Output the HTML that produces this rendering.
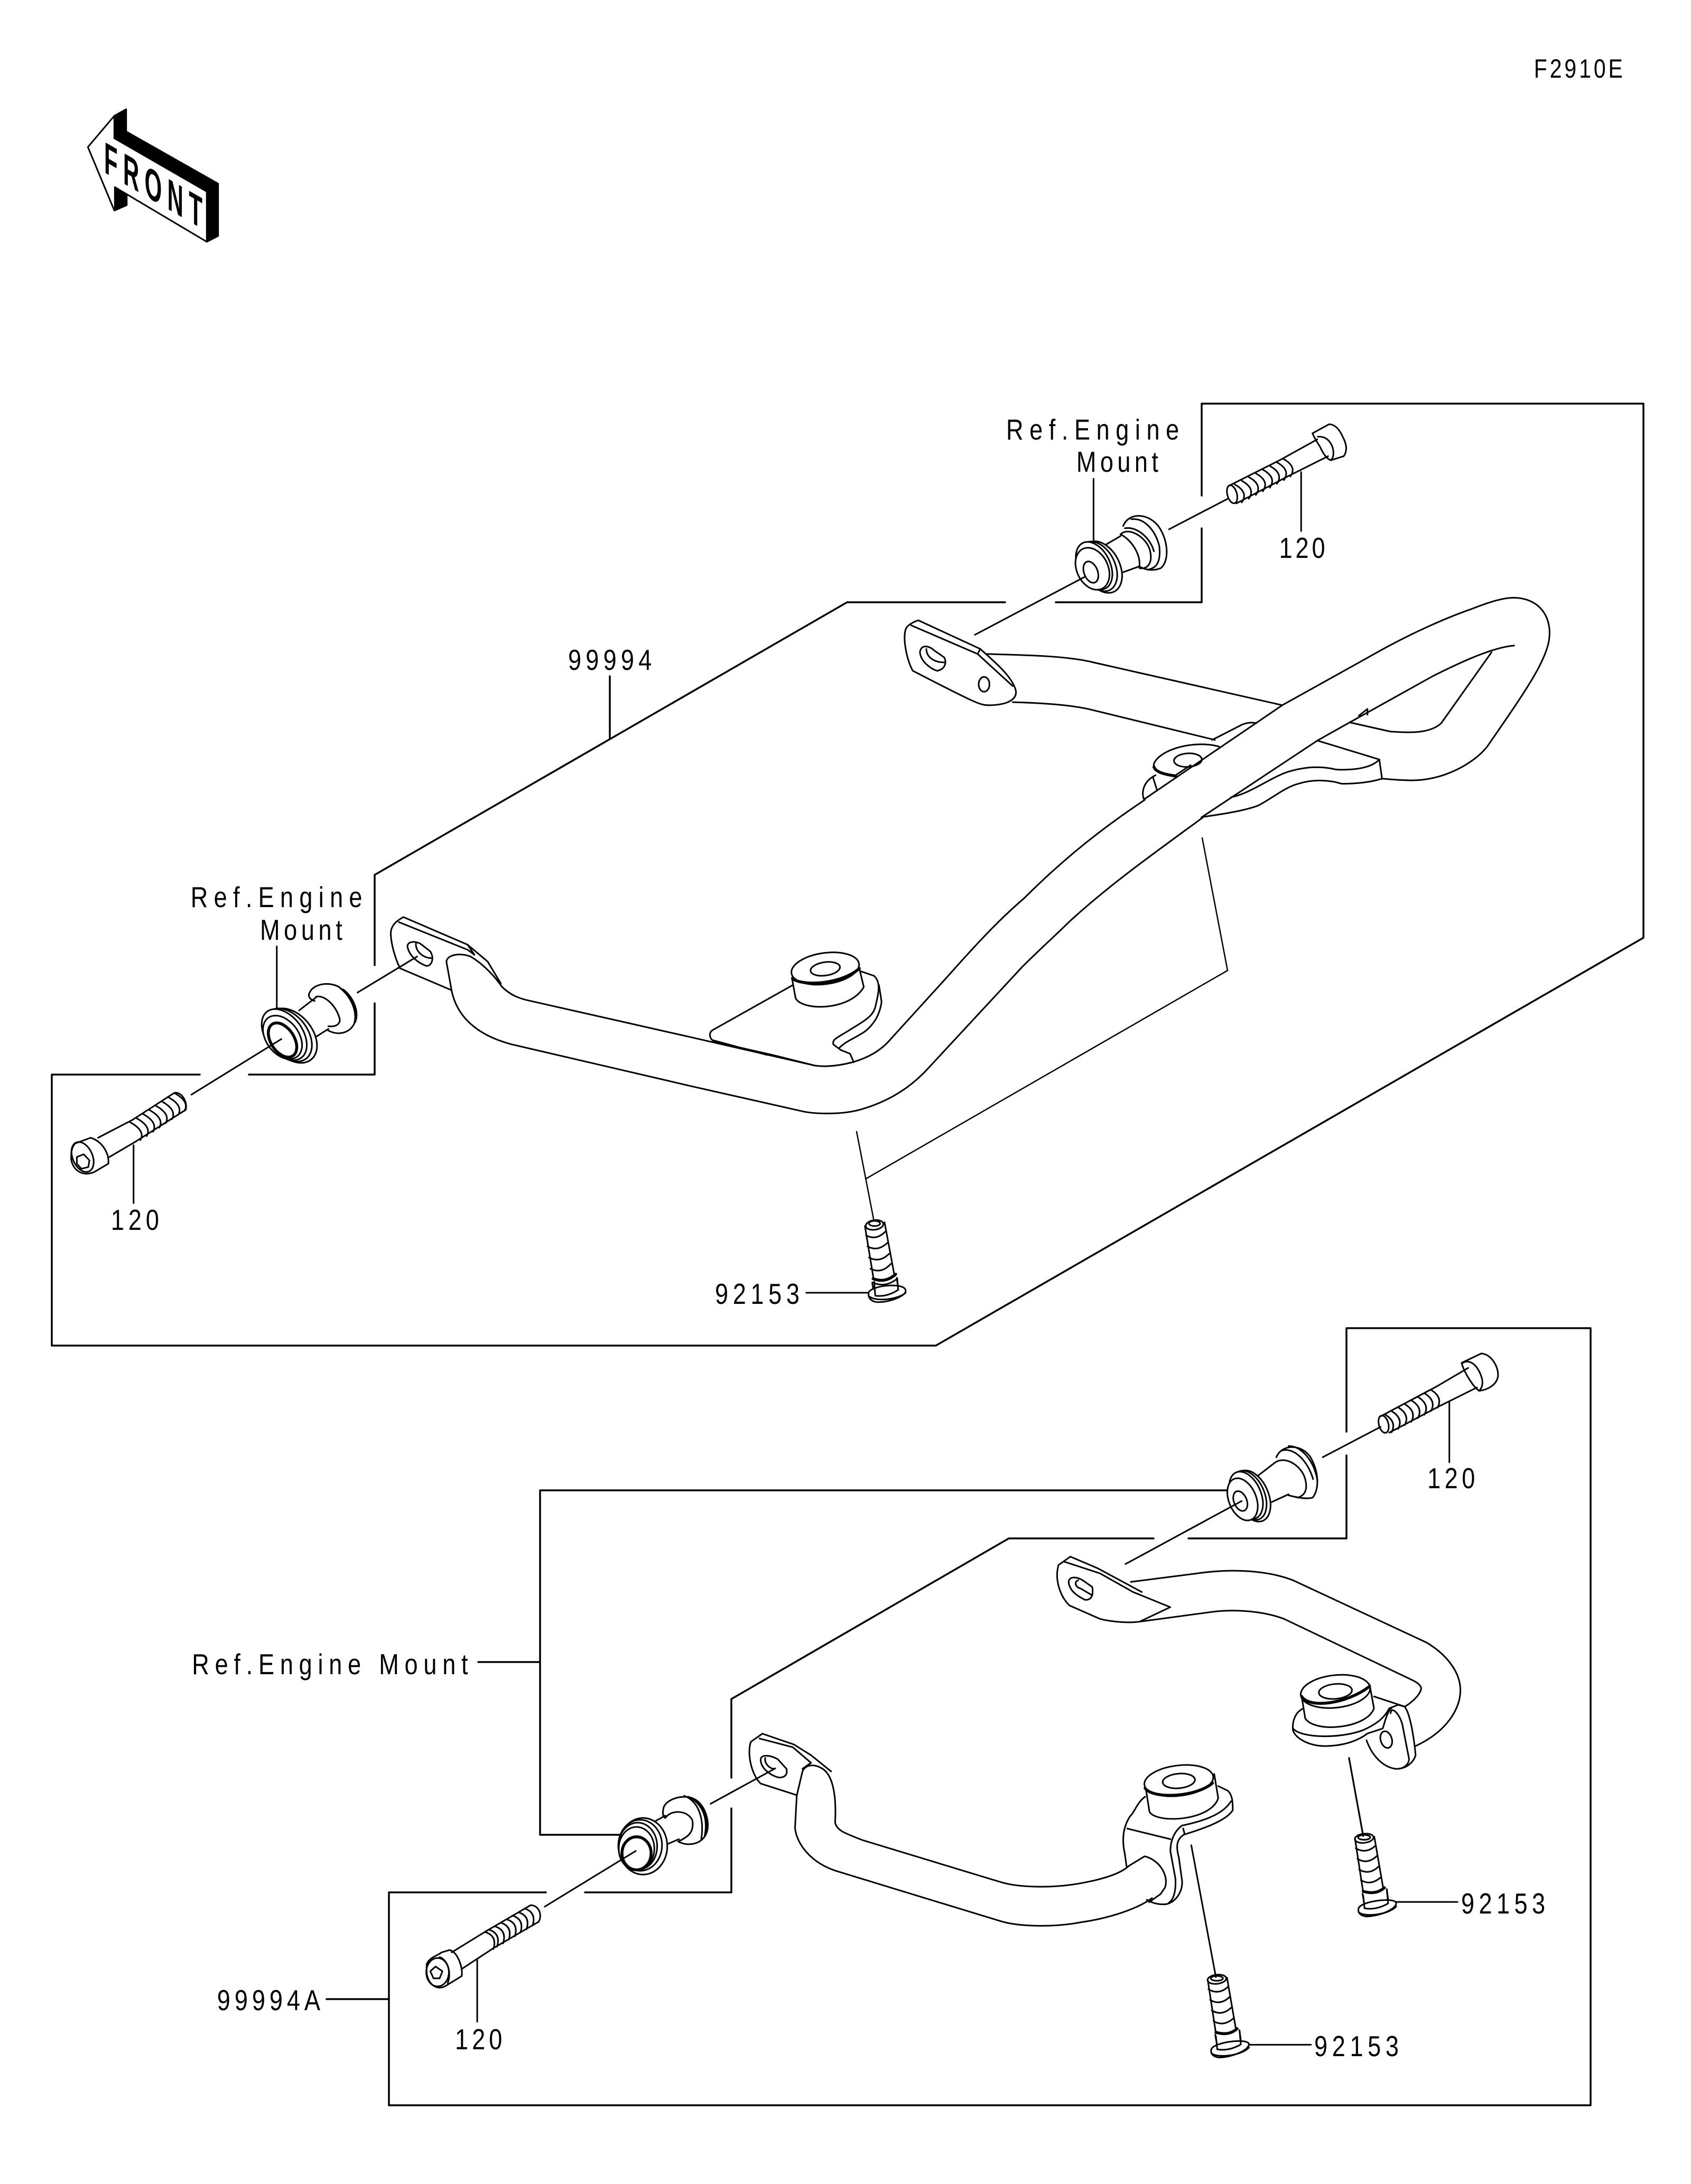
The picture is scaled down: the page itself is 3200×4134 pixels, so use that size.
<!DOCTYPE html>
<html><head><meta charset="utf-8"><title>F2910E</title>
<style>
html,body{margin:0;padding:0;background:#fff}
svg{display:block}
svg *{vector-effect:non-scaling-stroke}
path,line,ellipse,polyline{fill:none;stroke:#000;stroke-width:3;stroke-linejoin:round;stroke-linecap:round}
.w{fill:#fff}
.k{fill:#000;stroke:#000}
.t{stroke-width:5.5}
.f{stroke-width:3.5}
.n{stroke-width:2.5}
text{font-family:"Liberation Sans",sans-serif;font-size:55px;fill:#000;stroke:none}
</style></head><body>
<svg xmlns="http://www.w3.org/2000/svg" width="3200" height="4134" viewBox="0 0 3200 4134">
<rect width="3200" height="4134" fill="#fff"/>

<!-- FRONT arrow -->
<g transform="translate(100,60) scale(.5102,.3333)">
<path class="k" d="M228,478 L272,440 L272,567 L613,863 L613,1160 L571,1193 L571,908 L228,605Z"/>
<path class="k" d="M230,883 L274,925 L274,985 L230,1015Z"/>
<path d="M228,478 L130,655 L228,1015"/>
<path d="M230,883 L571,1193"/>
</g>
<text transform="translate(197,326) skewY(30) scale(.5,1)" style="font-size:84px;font-weight:bold" textLength="372" lengthAdjust="spacing">FRONT</text>

<!-- Frames -->
<g class="fr">
<path class="f" d="M2274,938 L2274,764 L3110,764 L3110,1775 L1771,2547 L98,2547 L98,2034 L378,2034"/>
<path class="f" d="M471,2034 L709,2034 L709,1899"/>
<path class="f" d="M709,1827 L709,1656 L1603,1140 L1902,1140"/>
<path class="f" d="M1998,1140 L2274,1140 L2274,1000"/>
<path class="n" d="M2275,1586 L2323,1837 L1639,2231"/>
<path class="n" d="M1621,2142 L1653,2307"/>
<line class="f" x1="1154" y1="1280" x2="1154" y2="1397"/>
<!-- lower -->
<path class="f" d="M2548,2710 L2548,2514 L3010,2514 L3010,3985 L736,3985 L736,3582 L1033,3582"/>
<path class="f" d="M1107,3582 L1384,3582 L1384,3423"/>
<path class="f" d="M1384,3365 L1384,3216 L1909,2912 L2183,2912"/>
<path class="f" d="M2249,2912 L2548,2912 L2548,2755"/>
<path class="f" d="M2322,2821 L1022,2821 L1022,3473 L1172,3473"/>
<line class="f" x1="905" y1="3146" x2="1022" y2="3146"/>
<line class="f" x1="618" y1="3784" x2="736" y2="3784"/>
</g>

<!-- Top right assembly (Z2 coordinates) -->
<g transform="translate(1600,750) scale(1.0204,.6378)">
<!-- bolt -->
<path d="M866,110 L897,83 Q912,84 922,120 Q934,155 924,178 L900,190 Q890,185 880,150 Q870,125 866,110Z"/>
<path d="M876,120 Q895,118 903,150 Q908,178 900,190"/>
<path d="M875,128 L805,190 L712,265"/>
<path d="M895,178 L820,238 L725,318"/>
<ellipse cx="717" cy="291" rx="9" ry="27" transform="rotate(-8 717 291)"/>
<path d="M722,262 Q748,285 735,315 M735,251 Q761,274 748,304 M748,240 Q774,263 761,293 M761,229 Q787,252 774,282 M774,218 Q800,241 787,271 M787,207 Q813,230 800,260 M800,196 Q826,219 813,249 M812,186 Q838,209 825,238"/>
<line x1="845" y1="225" x2="845" y2="400"/>
<line x1="600" y1="395" x2="708" y2="305"/>
<line x1="460" y1="245" x2="460" y2="430"/>
<!-- mount -->
<path d="M515,385 C525,345 560,345 580,385 C600,430 600,490 585,510 C570,520 555,515 545,505"/>
<path d="M530,365 C555,360 575,400 582,445 C585,490 578,510 560,515"/>
<path d="M510,410 C525,385 560,420 565,460 C570,495 560,515 545,510"/>
<path d="M518,392 C540,385 565,420 572,460"/>
<path d="M510,415 L478,445 M545,505 L505,528"/>
<path d="M510,410 C530,425 548,470 545,505"/>
<ellipse class="w" cx="475" cy="507" rx="35" ry="78" transform="rotate(-12 475 507)"/>
<ellipse class="w" cx="468" cy="505" rx="33" ry="75" transform="rotate(-12 468 505)"/>
<ellipse class="w" cx="461" cy="503" rx="31" ry="72" transform="rotate(-12 461 503)"/>
<ellipse class="w" cx="458" cy="512" rx="30" ry="63" transform="rotate(-10 458 512)"/>
<ellipse class="w" cx="455" cy="522" rx="13" ry="32" transform="rotate(-10 455 522)"/>
<line x1="445" y1="535" x2="240" y2="708"/>
<!-- plate -->
<path d="M135,665 L250,750 C270,780 310,830 316,875 C318,900 300,917 265,917 C250,917 240,910 125,815 C115,790 105,720 112,690 C115,680 125,670 135,665Z"/>
<path d="M122,680 L245,765 L250,750 M245,765 L310,860"/>
<path d="M138,760 C140,735 155,740 165,755 L183,775 C188,790 185,810 170,815 C160,810 140,790 138,760Z"/>
<path d="M150,750 C150,775 165,790 183,790"/>
<ellipse cx="257" cy="855" rx="10" ry="22"/>
<!-- far rail -->
<path d="M262,765 C330,768 410,770 460,790 L810,917"/>
<path d="M310,908 C360,910 420,915 460,932 L685,1020"/>
<path d="M935,968 L1010,995 C1050,1000 1085,1000 1105,970 L1198,760"/>
<path d="M875,1022 L990,1078 L995,1135"/>
<!-- near rail -->
<path d="M555,1195 L810,917 L975,770 C1040,710 1110,660 1160,632 C1195,610 1220,598 1240,598 C1290,600 1310,660 1305,720 C1300,790 1250,900 1190,1040 C1165,1090 1110,1140 1050,1140 C1030,1140 1010,1137 995,1135"/>
<path d="M660,1250 L875,1022 L935,968 L1090,830 C1140,790 1200,745 1240,740"/>
<!-- rear bushing -->
<path d="M693,1040 C650,1020 585,1045 572,1090 C570,1110 585,1122 612,1125 L640,1095"/>
<path class="t" d="M572,1100 C575,1115 590,1122 612,1127"/>
<ellipse cx="635" cy="1080" rx="26" ry="20" transform="rotate(-10 635 1080)"/>
<path d="M680,1020 L735,975 C745,968 755,968 762,970"/>
<path d="M575,1125 C555,1140 548,1170 553,1195 M570,1130 L578,1170"/>
<!-- front bracket -->
<path d="M715,1190 C750,1180 790,1130 820,1115 C860,1095 890,1100 910,1108 C940,1110 975,1105 990,1078"/>
<path d="M665,1248 C700,1240 740,1230 765,1215 C790,1195 815,1160 840,1150 C870,1135 900,1140 920,1150 C950,1150 975,1145 995,1135"/>
<path d="M952,948 L968,928 L968,945"/>
</g>

<!-- Rail middle + left bushing (Z6 coordinates) -->
<g transform="translate(1300,1500) scale(.7015,.7015)">
<path d="M0,658 L345,737 C380,742 420,735 450,727 C490,715 525,695 550,665 L700,500 C780,410 840,345 910,285 C1000,195 1100,110 1235,20"/>
<path d="M0,790 L310,860 C345,868 420,870 470,855 C540,835 600,800 650,745 L905,470 C950,425 1000,380 1030,350 C1150,240 1280,150 1395,65"/>
<path d="M285,520 L68,642 C60,648 60,660 68,668 L215,708"/>
<path d="M70,672 L230,708 L345,737"/>
<path d="M470,483 L505,495 C520,510 520,530 510,570 C505,600 490,610 440,640 C410,660 390,665 395,680 L415,695 L440,705 L450,728"/>
<path d="M518,520 L525,565 C520,600 505,625 480,645 C450,665 430,670 410,690"/>
<path class="w" d="M283,500 L293,555 C310,590 440,590 477,525 L465,475"/>
<ellipse class="w" cx="373" cy="475" rx="92" ry="42" transform="rotate(-8 373 475)"/>
<ellipse cx="373" cy="476" rx="40" ry="18" transform="rotate(-8 373 476)"/>
<path class="t" d="M285,503 C320,525 420,515 465,475"/>
<!-- bolt -->
<ellipse cx="506" cy="1167" rx="24" ry="13" transform="rotate(-8 506 1167)"/>
<ellipse cx="506" cy="1163" rx="15" ry="7"/>
<path d="M480,1170 L503,1310 M533,1160 L560,1305"/>
<path d="M483,1195 Q510,1210 535,1185 M487,1225 Q515,1240 541,1215 M491,1255 Q520,1270 545,1245 M495,1285 Q525,1300 550,1272"/>
<path class="t" d="M502,1312 Q535,1325 563,1300"/>
<path d="M500,1325 L505,1355 M567,1310 L570,1345 M500,1322 Q535,1338 567,1312"/>
<path class="w" d="M490,1350 C495,1330 590,1320 590,1345 C590,1360 540,1378 510,1375 C495,1372 488,1362 490,1350Z"/>
<path d="M505,1320 L508,1358 Q540,1362 570,1342 L566,1310"/>
<path d="M492,1360 C510,1375 570,1368 590,1350"/>
<line x1="322" y1="1350" x2="490" y2="1350"/>
</g>

<!-- Left assembly (Z3 coordinates) -->
<g transform="translate(50,1600) scale(1.0842,.6378)">
<path d="M658,213 L770,295 L805,345 L828,410"/>
<path d="M658,213 C645,225 635,240 636,265 C637,300 645,340 652,365 L742,430"/>
<path d="M650,228 L770,310 L782,325 M770,295 L782,325"/>
<path d="M665,300 C665,285 680,282 690,295 L705,315 C712,335 708,358 698,358 C685,350 668,330 665,300Z"/>
<path d="M680,290 C678,310 690,335 708,335"/>
<path d="M733,345 C735,325 755,318 775,330 C800,355 820,395 830,420 C845,445 860,455 880,462 L1153,567"/>
<path d="M733,345 L742,430 C750,500 780,560 845,590 L1153,712"/>
<!-- mount -->
<line x1="437" y1="300" x2="437" y2="485"/>
<path d="M495,435 C500,415 525,402 545,420 C568,450 578,495 572,530 C565,555 545,568 525,548"/>
<path d="M495,435 C490,448 495,458 503,462"/>
<path d="M545,420 C565,445 578,485 574,525 M553,428 C570,450 580,490 575,520"/>
<path d="M505,450 C518,442 538,470 546,510 C550,530 540,540 527,537"/>
<path d="M505,452 L476,490 M527,545 L502,572"/>
<ellipse class="w" cx="463" cy="565" rx="40" ry="83" transform="rotate(-15 463 565)"/>
<ellipse class="w" cx="456" cy="563" rx="38" ry="81" transform="rotate(-15 456 563)"/>
<ellipse class="w" cx="450" cy="562" rx="35" ry="78" transform="rotate(-15 450 562)"/>
<ellipse class="w" cx="447" cy="570" rx="31" ry="66" transform="rotate(-14 447 570)"/>
<ellipse class="t" cx="447" cy="578" rx="22" ry="52" transform="rotate(-14 447 578)"/>
<line x1="445" y1="575" x2="288" y2="740"/>
<line x1="578" y1="437" x2="682" y2="330"/>
<!-- bolt -->
<path d="M85,885 L112,868 C135,880 145,920 143,945 L118,970 C95,985 80,960 78,930 C78,905 80,895 85,885Z"/>
<ellipse cx="98" cy="925" rx="18" ry="45" transform="rotate(-10 98 925)"/>
<path d="M88,925 L100,917 L110,935 L108,955 L96,960 L88,945Z"/>
<path d="M125,868 L185,815 L258,735 M145,925 L190,880 L278,785"/>
<path d="M258,735 C270,730 282,760 278,785"/>
<path d="M258,735 Q285,760 276,788 M247,747 Q274,772 265,800 M236,760 Q263,785 254,813 M225,772 Q252,797 243,825 M214,785 Q241,810 232,838 M203,797 Q230,822 221,850 M192,810 Q219,835 210,863 M181,822 Q208,847 199,875"/>
<line x1="187" y1="890" x2="187" y2="1062"/>
</g>

<!-- Lower: mount, bolt (Z8 coordinates) -->
<g transform="translate(300,2700) scale(.7653,.8929)">
<path d="M1248,812 C1250,790 1300,778 1325,790 C1352,802 1365,840 1355,862 C1345,885 1310,892 1285,880"/>
<path d="M1248,812 C1246,822 1248,828 1253,830"/>
<path d="M1253,830 C1270,810 1310,815 1320,835 C1325,860 1310,870 1285,880"/>
<path d="M1310,785 C1345,800 1360,830 1350,870 M1322,790 C1350,805 1362,830 1354,862 M1300,783 C1335,795 1350,830 1342,875"/>
<path d="M1253,825 L1205,848 M1287,875 L1232,895"/>
<ellipse class="w" cx="1198" cy="890" rx="60" ry="60" transform="rotate(-30 1198 890)"/>
<ellipse class="w" cx="1191" cy="888" rx="54" ry="54"/>
<ellipse class="w" cx="1185" cy="890" rx="48" ry="50"/>
<ellipse class="w" cx="1182" cy="895" rx="44" ry="46"/>
<ellipse class="t" cx="1182" cy="905" rx="36" ry="35"/>
<line x1="955" y1="1018" x2="1180" y2="900"/>
<line x1="1365" y1="800" x2="1525" y2="725"/>
<path d="M663,1140 C670,1125 690,1122 700,1115 L720,1110 C740,1115 752,1145 750,1165 L712,1185 C695,1195 670,1190 663,1160Z"/>
<ellipse cx="690" cy="1157" rx="28" ry="30"/>
<path d="M672,1155 L685,1145 L702,1155 L695,1170 L680,1170Z"/>
<path d="M695,1125 C715,1130 725,1160 715,1180"/>
<path d="M725,1115 L810,1070 L920,1015 M750,1150 L830,1105 L940,1050"/>
<path d="M920,1015 C940,1015 950,1035 940,1050"/>
<path d="M905,1022 Q935,1030 925,1058 M890,1030 Q920,1038 910,1066 M875,1037 Q905,1045 895,1073 M861,1045 Q891,1053 881,1081 M846,1052 Q876,1060 866,1088 M832,1060 Q862,1068 852,1096 M817,1067 Q847,1075 837,1103 M808,1072 Q838,1080 828,1108"/>
<line x1="788" y1="1130" x2="788" y2="1262"/>
</g>

<!-- Lower left bracket + rail (Z5 coordinates) -->
<g transform="translate(700,3200) scale(1.0842,.5102)">
<path d="M685,160 L740,200 L770,240 L805,300"/>
<path d="M685,160 L665,190 C658,230 665,310 682,345 L745,388"/>
<path d="M680,178 L738,210 L770,268 L755,290"/>
<path d="M682,255 C683,235 700,240 712,255 L727,290 C730,315 722,325 712,322 C695,310 682,285 682,255Z"/>
<path d="M690,250 C688,270 698,290 705,290"/>
<path d="M755,300 C760,275 775,270 790,290 C805,310 815,370 812,490 C815,520 830,530 860,555 L1100,710 C1130,730 1190,735 1240,715 C1280,700 1310,680 1325,650 L1352,615 C1375,625 1395,680 1388,730 L1380,755 L1360,785"/>
<path d="M755,300 L745,390 L742,510 C745,570 770,640 815,670 L1100,855 C1130,875 1190,880 1240,860 C1290,845 1340,810 1365,770"/>
</g>

<!-- Lower bushings/bolts (Z9 coordinates) -->
<g transform="translate(2100,3200) scale(.6378,.574)">
<defs>
<g id="b">
<ellipse cx="755" cy="487" rx="28" ry="15" transform="rotate(-8 755 487)"/>
<ellipse cx="755" cy="484" rx="18" ry="8"/>
<path d="M728,490 L752,665 M785,482 L812,655"/>
<path d="M730,520 Q760,540 788,512 M735,555 Q765,575 793,545 M740,590 Q770,610 798,580 M745,625 Q775,645 805,615"/>
<path class="t" d="M752,662 Q790,675 815,650"/>
<path d="M750,670 L758,720 Q785,730 828,705 L822,655"/>
<path class="w" d="M738,720 C740,695 845,680 850,700 C852,720 800,745 760,745 C745,742 736,735 738,720Z"/>
<path d="M752,675 L756,718 Q790,725 826,702 L822,655"/>
<path d="M740,732 C760,748 830,738 850,712"/>
</g>
</defs>
<path d="M322,315 L350,330 C365,345 365,370 365,395 C350,420 310,445 220,475 C200,490 195,510 205,550 L215,630 C215,670 190,705 160,705 C140,705 125,700 110,690"/>
<path d="M105,350 C80,370 75,400 60,415 C40,450 35,490 45,540 L50,580"/>
<path d="M52,455 L180,490"/>
<path d="M360,365 C340,400 300,425 215,445 C195,460 180,490 180,530 L195,620 C197,660 190,690 175,700"/>
<path d="M218,455 L222,472"/>
<path class="w" d="M108,330 L118,400 C140,440 300,430 322,355 L310,275"/>
<ellipse class="w" cx="205" cy="297" rx="103" ry="50" transform="rotate(-8 205 297)"/>
<ellipse cx="205" cy="298" rx="48" ry="24" transform="rotate(-6 205 298)"/>
<path class="t" d="M105,322 C130,360 260,350 305,305"/>
<use href="#b"/>
<use href="#b" transform="translate(-437,465)"/>
<line x1="710" y1="222" x2="752" y2="480"/>
<line x1="242" y1="510" x2="315" y2="945"/>
<line x1="850" y1="697" x2="1032" y2="697"/>
<line x1="415" y1="1168" x2="597" y2="1168"/>
</g>

<!-- Upper right lower assembly (Z4 coordinates) -->
<g transform="translate(1800,2500) scale(.8291,.6378)">
<path d="M1165,125 L1210,97 C1235,100 1250,140 1248,165 C1245,190 1225,205 1205,208 C1190,195 1170,150 1165,125Z"/>
<path d="M1168,125 C1180,115 1195,125 1205,150 C1215,175 1215,195 1205,208"/>
<path d="M1180,140 L1108,195 L978,285 M1200,198 L1112,255 L1000,332"/>
<ellipse cx="987" cy="307" rx="11" ry="26" transform="rotate(-10 987 307)"/>
<path d="M990,278 Q1018,300 1005,331 M1005,268 Q1033,290 1020,321 M1020,257 Q1048,279 1035,310 M1035,247 Q1063,269 1050,300 M1050,236 Q1078,258 1065,289 M1065,226 Q1093,248 1080,279 M1080,215 Q1108,237 1095,268 M1095,205 Q1123,227 1110,258"/>
<line x1="1137" y1="240" x2="1137" y2="420"/>
<line x1="848" y1="405" x2="980" y2="315"/>
<path d="M742,405 C755,365 800,365 820,405 C840,450 840,500 825,525 C810,530 790,525 770,518"/>
<path d="M755,385 C785,375 815,420 826,470 M770,372 C800,370 830,420 836,475"/>
<path d="M735,425 C760,395 800,430 808,470 C815,505 805,520 790,525"/>
<path d="M735,425 L695,465 M770,515 L725,542"/>
<ellipse class="w" cx="687" cy="520" rx="38" ry="78" transform="rotate(-15 687 520)"/>
<ellipse class="w" cx="680" cy="518" rx="36" ry="75" transform="rotate(-15 680 518)"/>
<ellipse class="w" cx="673" cy="518" rx="35" ry="72" transform="rotate(-15 673 518)"/>
<ellipse class="w" cx="665" cy="530" rx="32" ry="64" transform="rotate(-14 665 530)"/>
<ellipse class="w" cx="660" cy="535" rx="15" ry="30" transform="rotate(-14 660 535)"/>
<line x1="663" y1="535" x2="398" y2="722"/>
<!-- plate -->
<path d="M272,700 L335,735 L435,805"/>
<path d="M272,700 L245,725 C235,770 250,820 270,845 L340,885 C370,895 410,897 430,893 L500,850 L415,805"/>
<path d="M258,715 L340,750 L415,805"/>
<path d="M268,775 C270,755 290,762 300,770 L322,790 C325,815 320,830 305,828 C285,815 270,800 268,775Z"/>
<path d="M290,770 C280,775 283,790 296,795 L322,815"/>
<path d="M410,775 L560,750 C640,735 720,740 780,770 L1085,955 C1130,990 1160,1040 1162,1090 C1165,1150 1130,1220 1060,1262"/>
<path d="M430,893 L590,865 C640,855 710,860 760,885 L1055,1068 C1065,1075 1075,1085 1072,1095 C1070,1110 1050,1135 1035,1145"/>
<!-- bushing -->
<path d="M965,1115 L1035,1145"/>
<path d="M805,1150 C785,1160 778,1190 780,1215 C785,1240 820,1265 860,1262 C900,1260 930,1245 950,1225 L985,1210 C990,1190 995,1160 1005,1150"/>
<path d="M780,1210 C800,1240 890,1240 940,1215 C975,1195 990,1175 1000,1150 L1020,1140 L1035,1145 C1050,1170 1058,1260 1060,1290 C1055,1310 1040,1330 1015,1330 C985,1325 960,1290 948,1245"/>
<path d="M1003,1165 C1005,1140 1025,1170 1030,1200 L1045,1300 C1045,1315 1035,1328 1020,1330"/>
<ellipse cx="993" cy="1243" rx="13" ry="25" transform="rotate(-10 993 1243)"/>
<path class="w" d="M800,1115 L808,1180 C830,1225 950,1210 965,1150 L955,1080"/>
<ellipse class="w" cx="877" cy="1100" rx="80" ry="48" transform="rotate(-10 877 1100)"/>
<ellipse cx="877" cy="1100" rx="38" ry="22" transform="rotate(-8 877 1100)"/>
<path class="t" d="M800,1115 C815,1150 900,1140 955,1085"/>
<line x1="908" y1="1298" x2="940" y2="1525"/>
</g>

<!-- Labels -->
<g transform="scale(.82,1)">
<text x="3540" y="147" textLength="205" lengthAdjust="spacing" style="font-size:50px">F2910E</text>
<text x="2322" y="832" textLength="399" lengthAdjust="spacing">Ref.Engine</text>
<text x="2484" y="893" textLength="189" lengthAdjust="spacing">Mount</text>
<text x="2952" y="1056" textLength="106" lengthAdjust="spacing">120</text>
<text x="1311" y="1268" textLength="193" lengthAdjust="spacing">99994</text>
<text x="440" y="1717" textLength="396" lengthAdjust="spacing">Ref.Engine</text>
<text x="600" y="1779" textLength="190" lengthAdjust="spacing">Mount</text>
<text x="256" y="2328" textLength="111" lengthAdjust="spacing">120</text>
<text x="1650" y="2468" textLength="195" lengthAdjust="spacing">92153</text>
<text x="3294" y="2817" textLength="110" lengthAdjust="spacing">120</text>
<text x="443" y="3169" textLength="637" lengthAdjust="spacing">Ref.Engine Mount</text>
<text x="3372" y="3622" textLength="194" lengthAdjust="spacing">92153</text>
<text x="501" y="3805" textLength="238" lengthAdjust="spacing">99994A</text>
<text x="1050" y="3879" textLength="109" lengthAdjust="spacing">120</text>
<text x="3033" y="3892" textLength="195" lengthAdjust="spacing">92153</text>
</g>
</svg>
</body></html>
